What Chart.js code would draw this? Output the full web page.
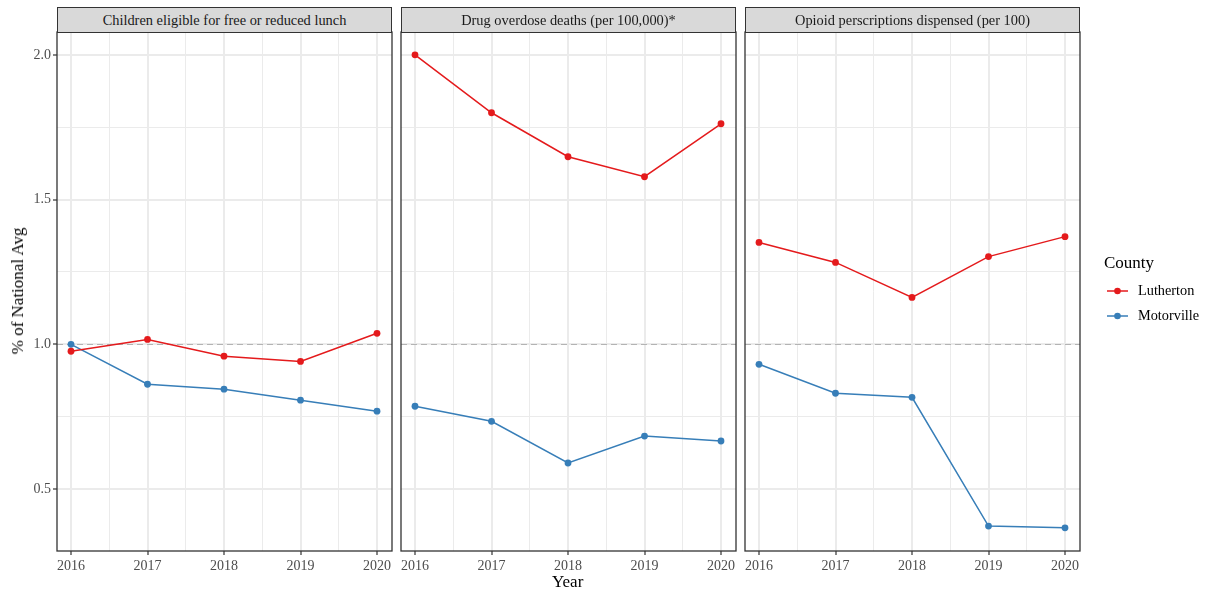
<!DOCTYPE html>
<html>
<head>
<meta charset="utf-8">
<script src="https://cdn.jsdelivr.net/npm/chart.js@4.4.0/dist/chart.umd.min.js"></script>
<style>
  body { margin: 0; background: #fff; width: 1206px; height: 592px; position: relative; overflow: hidden; font-family: "Liberation Serif", serif; }
  canvas { position: absolute; left: 0; top: 0; }
  .strip { position: absolute; top: 7px; height: 26px; box-sizing: border-box; background: #d9d9d9; border: 1px solid #333;
           font-size: 14.4px; color: #1a1a1a; text-align: center; line-height: 24px; white-space: nowrap; }
  .title { position: absolute; color: #000; font-size: 17px; }
</style>
</head>
<body>
<canvas id="p0" width="1206" height="592"></canvas>
<canvas id="p1" width="1206" height="592"></canvas>
<canvas id="p2" width="1206" height="592"></canvas>
<div class="title" style="left:552px;top:572px;">Year</div>
<div class="title" style="left:18px;top:291px;transform:translate(-50%,-50%) rotate(-90deg);white-space:nowrap;">% of National Avg</div>
<script>
// ---------- data ----------
const years = [2016, 2017, 2018, 2019, 2020]
const panelTitles = [
  "Children eligible for free or reduced lunch",
  "Drug overdose deaths (per 100,000)*",
  "Opioid perscriptions dispensed (per 100)"
]
const counties = ["Lutherton", "Motorville"]
const countyColors = ["#E41A1C", "#377EB8"]

const lunchLutherton = [0.976, 1.017, 0.959, 0.941, 1.038]
const lunchMotorville = [1.000, 0.862, 0.845, 0.807, 0.769]
const overdoseLutherton = [2.000, 1.800, 1.648, 1.579, 1.762]
const overdoseMotorville = [0.786, 0.734, 0.590, 0.683, 0.666]
const opioidLutherton = [1.352, 1.283, 1.162, 1.303, 1.372]
const opioidMotorville = [0.931, 0.831, 0.817, 0.372, 0.366]

const yTicks = [0.5, 0.75, 1.0, 1.25, 1.5, 1.75, 2.0]
const xTicks = [2016, 2016.5, 2017, 2017.5, 2018, 2018.5, 2019, 2019.5, 2020]
const refLine = 1.0
const yMin = 0.286, yMax = 2.079
const xMin = 2015.817, xMax = 2020.196

const panelValues = [
  [lunchLutherton, lunchMotorville],
  [overdoseLutherton, overdoseMotorville],
  [opioidLutherton, opioidMotorville]
]

// panel placement on the page
const panelBox = [
  { left: 57, right: 392 },
  { left: 401, right: 736 },
  { left: 745, right: 1080 }
]
const panelTop = 32, panelBottom = 551

const isMajorY = v => Math.abs(v * 2 - Math.round(v * 2)) < 1e-6
const isMajorX = v => Number.isInteger(v)

// dashed reference line and panel border
const panelDecor = {
  id: 'panelDecor',
  beforeDatasetsDraw(chart) {
    const { ctx, chartArea: a, scales: { y } } = chart
    const py = Math.round(y.getPixelForValue(refLine)) + 0.5
    ctx.save()
    ctx.strokeStyle = '#b3b3b3'
    ctx.lineWidth = 1
    ctx.setLineDash([6, 4])
    ctx.beginPath()
    ctx.moveTo(a.left, py)
    ctx.lineTo(a.right, py)
    ctx.stroke()
    ctx.restore()
  },
  afterDraw(chart) {
    const { ctx, chartArea: a } = chart
    ctx.save()
    ctx.strokeStyle = '#333333'
    ctx.lineWidth = 1.3
    ctx.strokeRect(a.left, a.top, a.right - a.left, a.bottom - a.top)
    ctx.restore()
  }
}

// ggplot-style legend to the right of the last panel
const sideLegend = {
  id: 'sideLegend',
  afterDraw(chart) {
    const ctx = chart.ctx
    ctx.save()
    ctx.fillStyle = '#000'
    ctx.font = '17px "Liberation Serif", serif'
    ctx.textBaseline = 'middle'
    ctx.fillText('County', 1104, 264)
    chart.data.datasets.forEach((ds, i) => {
      const cy = 291 + i * 25
      ctx.strokeStyle = ds.borderColor
      ctx.lineWidth = 1.5
      ctx.beginPath()
      ctx.moveTo(1107, cy)
      ctx.lineTo(1128, cy)
      ctx.stroke()
      ctx.fillStyle = ds.borderColor
      ctx.beginPath()
      ctx.arc(1117.5, cy, 3.3, 0, Math.PI * 2)
      ctx.fill()
      ctx.fillStyle = '#000'
      ctx.font = '14.3px "Liberation Serif", serif'
      ctx.fillText(ds.label, 1138, cy)
    })
    ctx.restore()
  }
}

const tickFont = { family: '"Liberation Serif", serif', size: 14 }

panelTitles.forEach((title, i) => {
  const box = panelBox[i]
  const strip = document.createElement('div')
  strip.className = 'strip'
  strip.style.left = box.left + 'px'
  strip.style.width = (box.right - box.left) + 'px'
  strip.textContent = title
  document.body.appendChild(strip)

  const yAxisWidth = i === 0 ? box.left : 0

  const datasets = counties.map((name, k) => ({
    label: name,
    data: years.map((yr, j) => ({ x: yr, y: panelValues[i][k][j] })),
    borderColor: countyColors[k],
    backgroundColor: countyColors[k],
    borderWidth: 1.5,
    pointRadius: 3.4,
    pointBorderWidth: 0,
    tension: 0
  }))

  new Chart(document.getElementById('p' + i), {
    type: 'line',
    data: { datasets },
    plugins: i === 2 ? [panelDecor, sideLegend] : [panelDecor],
    options: {
      responsive: false,
      animation: false,
      events: [],
      layout: {
        padding: { left: box.left - yAxisWidth, right: 1206 - box.right, top: panelTop, bottom: 0 }
      },
      plugins: { legend: { display: false }, tooltip: { enabled: false } },
      scales: {
        x: {
          type: 'linear',
          min: xMin,
          max: xMax,
          afterBuildTicks: s => { s.ticks = xTicks.map(v => ({ value: v })) },
          afterFit: s => { s.height = 592 - panelBottom },
          border: { display: false },
          grid: {
            color: '#ebebeb',
            lineWidth: c => isMajorX(c.tick.value) ? 2 : 1,
            tickColor: c => isMajorX(c.tick.value) ? '#333333' : 'rgba(0,0,0,0)',
            tickWidth: 1.2,
            tickLength: 4
          },
          ticks: {
            color: '#4d4d4d',
            font: tickFont,
            padding: 3,
            maxRotation: 0,
            autoSkip: false,
            callback: v => isMajorX(v) ? String(v) : ''
          }
        },
        y: {
          type: 'linear',
          min: yMin,
          max: yMax,
          afterBuildTicks: s => { s.ticks = yTicks.map(v => ({ value: v })) },
          afterFit: s => { s.width = yAxisWidth },
          border: { display: false },
          grid: {
            color: '#ebebeb',
            lineWidth: c => isMajorY(c.tick.value) ? 2 : 1,
            tickColor: c => isMajorY(c.tick.value) ? '#333333' : 'rgba(0,0,0,0)',
            tickWidth: 1.2,
            tickLength: 4,
            drawTicks: i === 0
          },
          ticks: {
            display: i === 0,
            color: '#4d4d4d',
            font: tickFont,
            padding: 2,
            autoSkip: false,
            callback: v => isMajorY(v) ? v.toFixed(1) : ''
          }
        }
      }
    }
  })
})
</script>
</body>
</html>
